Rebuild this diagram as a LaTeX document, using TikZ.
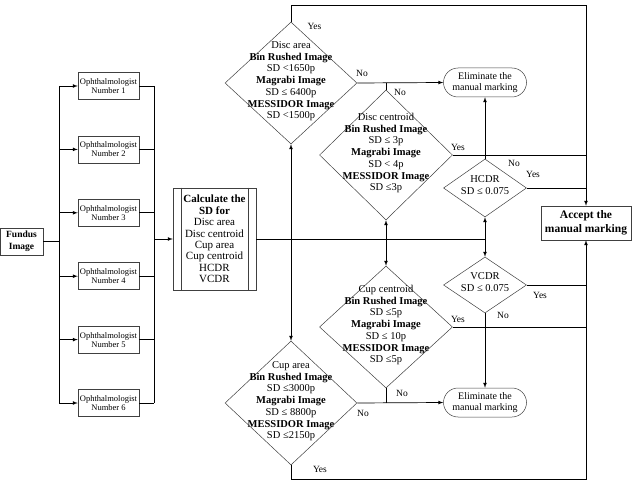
\documentclass[tikz,border=0pt]{standalone}
\usepackage{fontspec}
\setmainfont{Liberation Serif}
\usetikzlibrary{shapes.geometric,shapes.misc}
% text inside a diamond, not counted in its size
\newcommand{\dtxt}[1]{\raisebox{-2pt}{\smash{\makebox[0pt]{\begin{tabular}{@{}c@{}}#1\end{tabular}}}}}

\begin{document}
\begin{tikzpicture}[x=1pt, y=-1pt, >=latex,
  font=\fontsize{9.5}{11.7}\selectfont,
  line/.style={line width=0.7pt},
  box/.style={draw=black!75, line width=0.5pt, minimum width=61pt, minimum height=27pt, inner sep=1pt, align=center, font=\fontsize{8.5}{9}\selectfont},
  dia/.style={draw=black!75, line width=0.5pt, diamond, inner sep=0pt, font=\fontsize{10.5}{11.7}\selectfont},
  term/.style={draw=black!75, line width=0.5pt, rounded rectangle, minimum width=83pt, minimum height=29pt, inner sep=0pt, align=center, font=\fontsize{10}{11}\selectfont},
  lbl/.style={inner sep=0pt, font=\fontsize{9.5}{11}\selectfont}]
  \useasboundingbox (0,0) rectangle (633,487);
  % Input and ophthalmologists
  \node[draw=black!75, line width=0.5pt, minimum width=43pt, minimum height=27pt, inner sep=1pt, align=center, font=\fontsize{9.5}{11.5}\selectfont\bfseries] (fundus) at (21.5,241.5) {Fundus\\Image};
  \coordinate (busLt) at (59,86);
  \coordinate (busLb) at (59,403);
  \coordinate (busRt) at (154,86);
  \coordinate (busRb) at (154,403);
  \draw[line] (fundus.east) -- (fundus.east -| busLt);
  \draw[line] (busLt) -- (busLb);
  \draw[line] (busRt) -- (busRb);
  \foreach \i in {1,...,6}{
    \node[box] (oph\i) at (108.5,{86+63.4*(\i-1)}) {Ophthalmologist\\Number \i};
    \draw[->, line] (oph\i.west -| busLt) -- (oph\i.west);
    \draw[line] (oph\i.east) -- (oph\i.east -| busRt);
  }
  \node[draw=black!75, line width=0.5pt, minimum width=83pt, minimum height=102pt, inner sep=0pt, align=center, font=\fontsize{11}{11.4}\selectfont] (calc) at (214.5,239) {\textbf{Calculate the}\\\textbf{SD for}\\Disc area\\Disc centroid\\Cup area\\Cup centroid\\HCDR\\VCDR};
  \draw[black!75, line width=0.5pt] ([xshift=8pt]calc.north west) -- ([xshift=8pt]calc.south west);
  \draw[black!75, line width=0.5pt] ([xshift=-8pt]calc.north east) -- ([xshift=-8pt]calc.south east);
  \draw[->, line] (calc.west -| busRt) -- (calc.west);
  % Decisions
  \node[dia, minimum width=132pt, minimum height=122pt] (discA) at (291,83) {\dtxt{Disc area\\\textbf{Bin Rushed Image}\\SD <1650p\\\textbf{Magrabi Image}\\SD ≤ 6400p\\\textbf{MESSIDOR Image}\\SD <1500p}};
  \node[dia, minimum width=133pt, minimum height=130pt] (discC) at (386,155) {\dtxt{Disc centroid\\\textbf{Bin Rushed Image}\\SD ≤ 3p\\\textbf{Magrabi Image}\\SD < 4p\\\textbf{MESSIDOR Image}\\SD ≤3p}};
  \node[dia, minimum width=133pt, minimum height=122pt] (cupC) at (386,327) {\dtxt{Cup centroid\\\textbf{Bin Rushed Image}\\SD ≤5p\\\textbf{Magrabi Image}\\SD ≤ 10p\\\textbf{MESSIDOR Image}\\SD ≤5p}};
  \node[dia, minimum width=132pt, minimum height=124pt] (cupA) at (291,403) {\dtxt{Cup area\\\textbf{Bin Rushed Image}\\SD ≤3000p\\\textbf{Magrabi Image}\\SD ≤ 8800p\\\textbf{MESSIDOR Image}\\SD ≤2150p}};
  \node[dia, minimum width=83pt, minimum height=58pt] (hcdr) at (485,188) {\dtxt{HCDR\\SD ≤ 0.075}};
  \node[dia, minimum width=83pt, minimum height=56pt] (vcdr) at (485,285) {\dtxt{VCDR\\SD ≤ 0.075}};
  % Outcomes
  \node[term] (elim1) at (485,82.5) {Eliminate the\\manual marking};
  \node[term] (elim2) at (485,402.5) {Eliminate the\\manual marking};
  \node[draw=black!75, line width=0.5pt, minimum width=90pt, minimum height=34pt, inner sep=0pt, align=center, font=\fontsize{11.5}{14}\selectfont\bfseries] (accept) at (586,223) {Accept the\\manual marking};
  % Main line and branches
  \coordinate (j1) at (calc.east -| discA.south);
  \coordinate (j2) at (calc.east -| discC.south);
  \coordinate (j3) at (calc.east -| hcdr.south);
  \draw[line] (calc.east) -- (j3);
  \draw[->, line] (j1) -- (discA.south);
  \draw[->, line] (j1) -- (cupA.north);
  \draw[->, line] (j2) -- (discC.south);
  \draw[->, line] (j2) -- (cupC.north);
  \draw[->, line] (j3) -- (hcdr.south);
  \draw[->, line] (j3) -- (vcdr.north);
  % Yes / No exits
  \draw[->, line] (discA.north) -- ([yshift=16pt]discA.north) -| (accept.north);
  \draw[->, line] (cupA.south) -- ([yshift=-14pt]cupA.south) -| (accept.south);
  \draw[->, line] (discA.east) -- (elim1.west);
  \draw[line] (discC.north) -- (discC.north |- discA.east);
  \draw[line] (discC.east) -- (discC.east -| accept.north);
  \draw[->, line] (hcdr.north) -- (elim1.south);
  \draw[line] (hcdr.east) -- (hcdr.east -| accept.north);
  \draw[line] (vcdr.east) -- (vcdr.east -| accept.south);
  \draw[->, line] (vcdr.south) -- (elim2.north);
  \draw[line] (cupC.east) -- (cupC.east -| accept.south);
  \draw[line] (cupC.south) -- (cupC.south |- elim2.west);
  \draw[->, line] (cupA.east) -- (elim2.west);
  % Labels
  \node[lbl] (yTop) at (314.5,26) {Yes};
  \node[lbl] (nDiscA) at (362,73) {No};
  \node[lbl] (nDiscC) at (400,92) {No};
  \node[lbl] (yDiscC) at (458,147) {Yes};
  \node[lbl] (nHcdr) at (514,163) {No};
  \node[lbl] (yHcdr) at (533,174) {Yes};
  \node[lbl] (yVcdr) at (540,295) {Yes};
  \node[lbl] (nVcdr) at (503,315) {No};
  \node[lbl] (yCupC) at (458,319) {Yes};
  \node[lbl] (nCupC) at (402,393) {No};
  \node[lbl] (nCupA) at (363,413) {No};
  \node[lbl] (yBot) at (320,469) {Yes};
\end{tikzpicture}
\end{document}
